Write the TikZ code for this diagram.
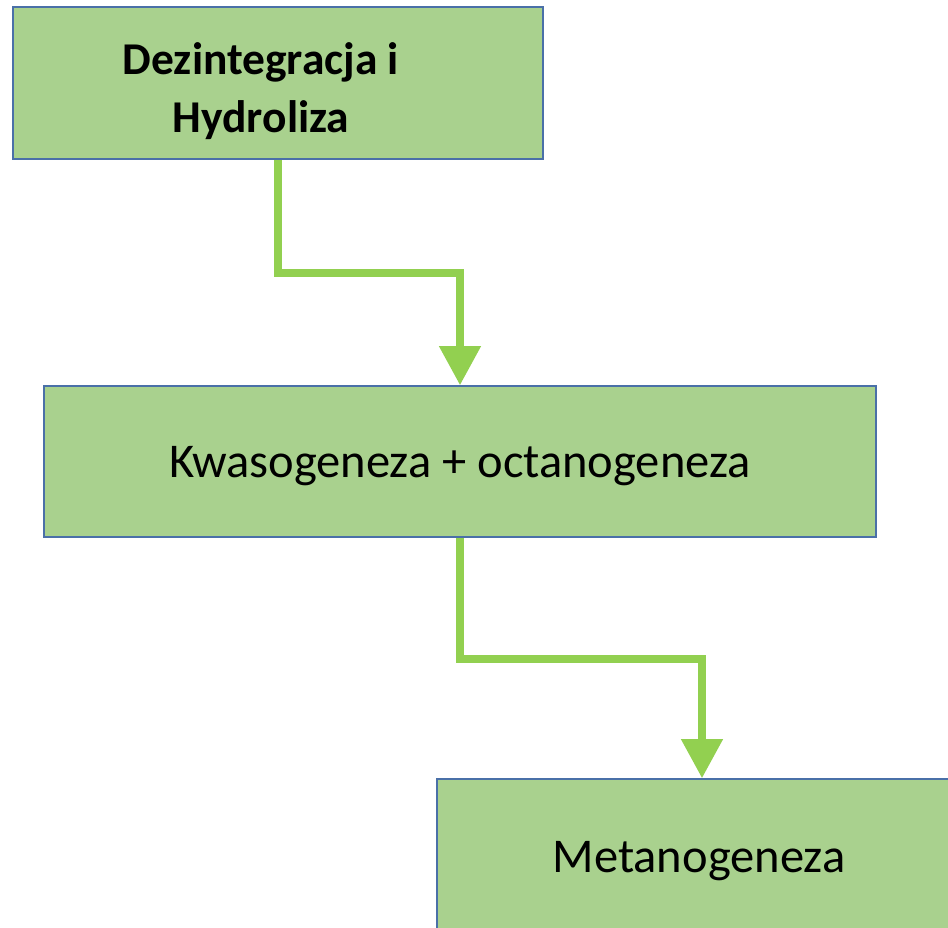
\documentclass[tikz,border=0pt]{standalone}
\usepackage{fontspec}
\setmainfont{Carlito}
\usepackage{xcolor}
\usetikzlibrary{arrows.meta}

\definecolor{boxfill}{HTML}{A9D18E}
\definecolor{boxline}{HTML}{4A70A8}
\definecolor{flowgreen}{HTML}{92D050}

\begin{document}
\begin{tikzpicture}[x=1pt, y=-1pt]
    % Define node styles
    \tikzstyle{stage} = [rectangle, draw=boxline, fill=boxfill, line width=1.6pt, inner sep=0pt]
    \tikzstyle{label} = [align=center, font=\fontsize{48.5}{58}\selectfont, inner sep=0pt]
    \tikzstyle{flow} = [draw=flowgreen, line width=7.5pt, -{Triangle[width=40pt, length=39pt]}]

    % Canvas
    \useasboundingbox (0,0) rectangle (948,927);
    \clip (0,0) rectangle (948,927);

    % Stages
    \node[stage, minimum width=530pt, minimum height=152pt] (hydro) at (278,83) {};
    \node[label, font=\fontsize{45.5}{58}\selectfont\bfseries] (hydrotxt) at (261,91) {Dezintegracja i\\Hydroliza};
    \node[stage, minimum width=832pt, minimum height=151pt] (kwas) at (460,461.5) {};
    \node[label] (kwastxt) at (460,466) {Kwasogeneza + octanogeneza};
    \node[stage, minimum width=530pt, minimum height=151pt] (meta) at (702,854.5) {};
    \node[label] (metatxt) at (699,861) {Metanogeneza};

    % Flow arrows
    \draw[flow] (hydro.south) -- ++(0,113) -| (kwas.north);
    \draw[flow] (kwas.south) -- ++(0,121) -| (meta.north);
\end{tikzpicture}
\end{document}
